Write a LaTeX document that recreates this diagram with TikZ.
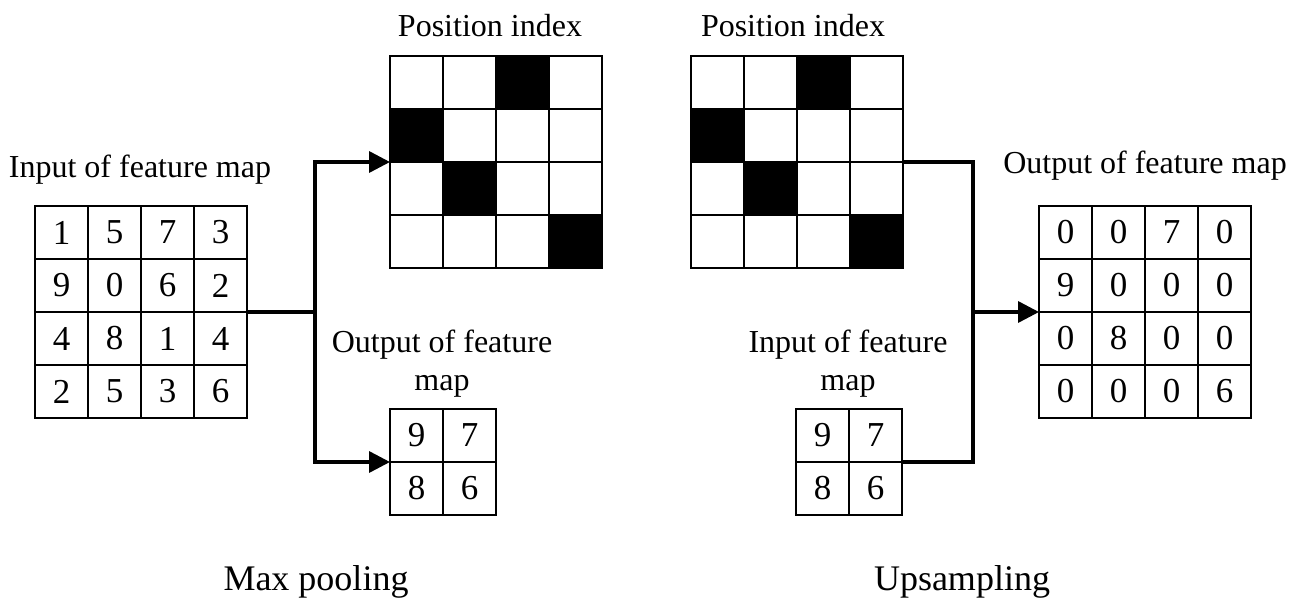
\documentclass[tikz,border=0pt]{standalone}
\usepackage{fontspec}
\setmainfont{Liberation Serif}
\usetikzlibrary{arrows.meta}
\begin{document}
\begin{tikzpicture}[x=1pt,y=-1pt,
  cell/.style={draw, line width=1.8pt, minimum size=53pt, inner sep=0pt, outer sep=0pt,
    font=\fontsize{35}{35}\selectfont},
  lbl/.style={font=\fontsize{32}{38}\selectfont, inner sep=0pt, anchor=base},
  big/.style={font=\fontsize{36}{40}\selectfont, inner sep=0pt, anchor=base},
  wire/.style={line width=3.5pt, line join=miter},
  conn/.style={wire, -{Triangle[length=21pt,width=21pt]}}]
\useasboundingbox (0,0) rectangle (1303,602);

% Max pooling: input 4x4
\foreach \row [count=\r] in {{1,5,7,3},{9,0,6,2},{4,8,1,4},{2,5,3,6}} {
  \foreach \v [count=\c] in \row {
    \node[cell] (in-\r-\c) at ({35+(\c-0.5)*53},{206+(\r-0.5)*53}) {\v};
  }
}
% Position index (left)
\foreach \row [count=\r] in {{0,0,1,0},{1,0,0,0},{0,1,0,0},{0,0,0,1}} {
  \foreach \v [count=\c] in \row {
    \ifnum\v=1 \def\fc{black}\else\def\fc{white}\fi
    \node[cell, fill=\fc] (p-\r-\c) at ({390+(\c-0.5)*53},{56+(\r-0.5)*53}) {};
  }
}
% Output 2x2 (left)
\foreach \row [count=\r] in {{9,7},{8,6}} {
  \foreach \v [count=\c] in \row {
    \node[cell] (o-\r-\c) at ({390+(\c-0.5)*53},{409+(\r-0.5)*53}) {\v};
  }
}
% Position index (right)
\foreach \row [count=\r] in {{0,0,1,0},{1,0,0,0},{0,1,0,0},{0,0,0,1}} {
  \foreach \v [count=\c] in \row {
    \ifnum\v=1 \def\fc{black}\else\def\fc{white}\fi
    \node[cell, fill=\fc] (q-\r-\c) at ({691+(\c-0.5)*53},{56+(\r-0.5)*53}) {};
  }
}
% Input 2x2 (right)
\foreach \row [count=\r] in {{9,7},{8,6}} {
  \foreach \v [count=\c] in \row {
    \node[cell] (i-\r-\c) at ({796+(\c-0.5)*53},{409+(\r-0.5)*53}) {\v};
  }
}
% Output 4x4 (right)
\foreach \row [count=\r] in {{0,0,7,0},{9,0,0,0},{0,8,0,0},{0,0,0,6}} {
  \foreach \v [count=\c] in \row {
    \node[cell] (u-\r-\c) at ({1039+(\c-0.5)*53},{206+(\r-0.5)*53}) {\v};
  }
}

% labels
\node[lbl] (tin) at (140,177) {Input of feature map};
\node[lbl] (tp1) at (490,37) {Position index};
\node[lbl] (to1a) at (442,352) {Output of feature};
\node[lbl] (to1b) at (442,390) {map};
\node[lbl] (tp2) at (793,37) {Position index};
\node[lbl] (ti2a) at (848,352) {Input of feature};
\node[lbl] (ti2b) at (848,390) {map};
\node[lbl] (tout) at (1145,173) {Output of feature map};
\node[big] (cap1) at (316,590) {Max pooling};
\node[big] (cap2) at (962,590) {Upsampling};

% connectors
\coordinate (j1) at (315,312);
\coordinate (j2) at (973,312);
\draw[conn] (in-2-4.south east) -- (j1) |- (p-3-1.north west);
\draw[conn] (j1) |- (o-2-1.north west);
\draw[wire] (q-2-4.south east) -| (j2) |- (i-1-2.south east);
\draw[conn] (j2) -- (u-2-1.south west);
\end{tikzpicture}
\end{document}
